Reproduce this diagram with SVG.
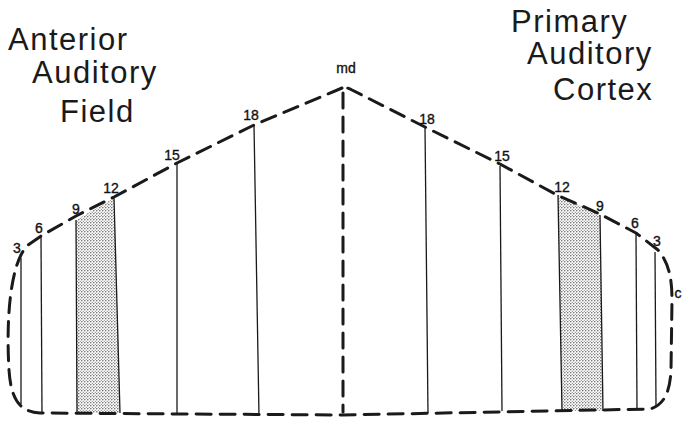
<svg xmlns="http://www.w3.org/2000/svg" width="682" height="421" viewBox="0 0 682 421">
<defs>
<pattern id="dots" width="3" height="3" patternUnits="userSpaceOnUse">
<rect width="3" height="3" fill="#fff"/>
<circle cx="0.8" cy="0.8" r="0.75" fill="#555"/>
<circle cx="2.3" cy="2.3" r="0.6" fill="#777"/>
</pattern>
</defs>
<style>
.dash{fill:none;stroke:#1a1a1a;stroke-width:3;stroke-dasharray:15 9;stroke-linecap:round;stroke-linejoin:round}
.v{stroke:#1a1a1a;stroke-width:1.3;fill:none}
.num{font-family:"Liberation Sans",Arial,sans-serif;font-size:14px;fill:#111;stroke:#111;stroke-width:0.35;text-anchor:middle}
.big{font-family:"Liberation Sans",Arial,sans-serif;font-size:31px;fill:#1a1a1a;letter-spacing:1.5px}
</style>
<rect width="682" height="421" fill="#fff"/>
<g id="shading">
<polygon points="76,220 114,198 120,413 77,413" fill="url(#dots)"/>
<polygon points="558,195 600,215 603,411 562,411" fill="url(#dots)"/>
</g>
<g id="connectors">
<path class="dash" d="M342,88 L254,125 L177,163 L114,197 L76,216 L41,236 L28,245 C10,262 6,320 9,370 C11,400 20,412 40,413 L342,415 L650,409 C664,405 670,392 671,370 L672,300 C672,276 668,262 658,250 L636,233 L600,214 L557,195 L500,164 L425,127 L352,90 Q347,87 342,88"/>
<path class="dash" d="M343,93 L343,412"/>
<line class="v" x1="21" y1="258" x2="21" y2="404"/>
<line class="v" x1="41" y1="237" x2="42" y2="413"/>
<line class="v" x1="76" y1="220" x2="77" y2="413"/>
<line class="v" x1="114" y1="198" x2="120" y2="413"/>
<line class="v" x1="177" y1="164" x2="177" y2="415"/>
<line class="v" x1="254" y1="125" x2="259" y2="416"/>
<line class="v" x1="425" y1="127" x2="428" y2="413"/>
<line class="v" x1="500" y1="166" x2="502" y2="411"/>
<line class="v" x1="558" y1="195" x2="562" y2="411"/>
<line class="v" x1="600" y1="215" x2="603" y2="411"/>
<line class="v" x1="636" y1="233" x2="637" y2="410"/>
<line class="v" x1="655" y1="252" x2="656" y2="405"/>
</g>
<g id="labels-left">
<text class="big" x="8" y="50">Anterior</text>
<text class="big" x="32" y="83">Auditory</text>
<text class="big" x="60" y="122">Field</text>
</g>
<g id="labels-right">
<text class="big" x="511" y="32">Primary</text>
<text class="big" x="527" y="64">Auditory</text>
<text class="big" x="553" y="100">Cortex</text>
</g>
<g id="numbers">
<text class="num" x="346" y="73">md</text>
<text class="num" x="17" y="253">3</text>
<text class="num" x="39" y="233">6</text>
<text class="num" x="76" y="214">9</text>
<text class="num" x="111" y="193">12</text>
<text class="num" x="172" y="160">15</text>
<text class="num" x="251" y="120">18</text>
<text class="num" x="427" y="124">18</text>
<text class="num" x="502" y="161">15</text>
<text class="num" x="562" y="192">12</text>
<text class="num" x="600" y="211">9</text>
<text class="num" x="635" y="228">6</text>
<text class="num" x="657" y="246">3</text>
<text class="num" x="678" y="298">c</text>
</g>
</svg>
